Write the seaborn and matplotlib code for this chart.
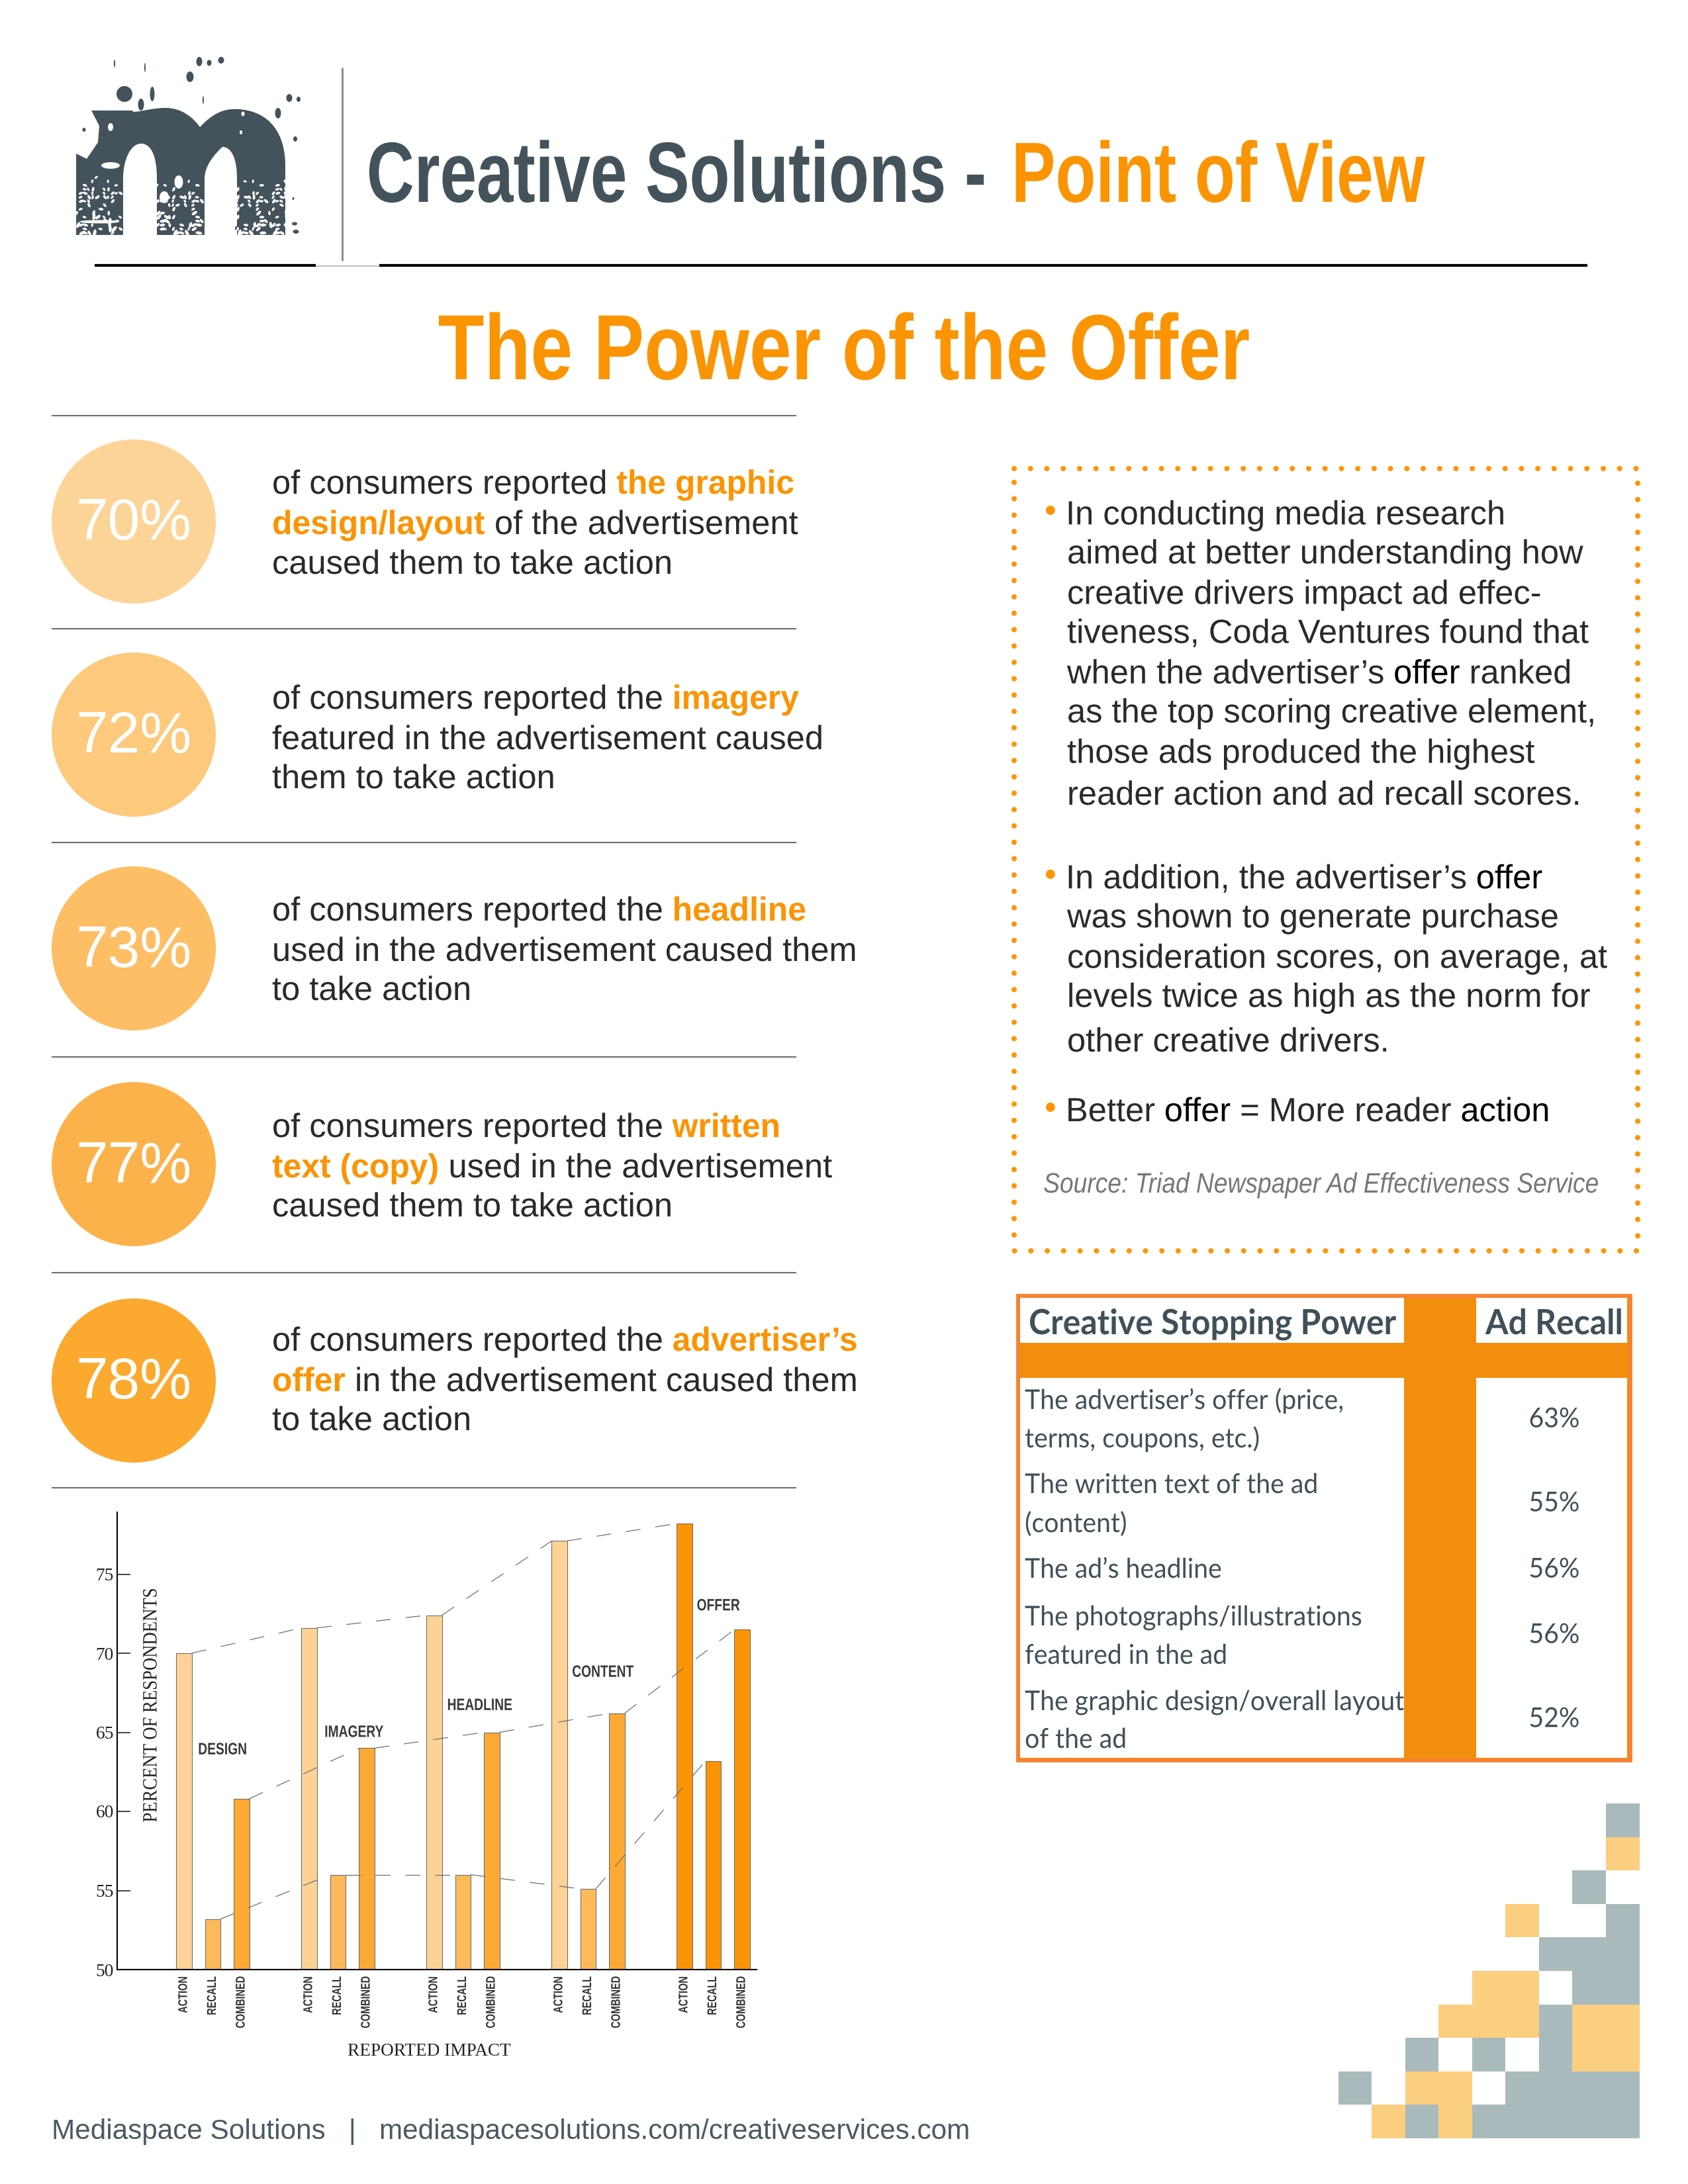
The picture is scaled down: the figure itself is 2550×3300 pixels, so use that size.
"""Rebuild of the Power of the Offer one-pager: chart, table, mosaic and copy."""
import matplotlib
matplotlib.use('Agg')
import matplotlib.pyplot as plt
from matplotlib.colors import ListedColormap
from matplotlib.patches import Circle, Ellipse, PathPatch, Rectangle
from matplotlib.patheffects import AbstractPathEffect
from matplotlib.path import Path
from matplotlib.transforms import Affine2D
import numpy as np
import pandas as pd
import seaborn as sns

W, H = 2550, 3300
DPI = 300

GROUPS = ['DESIGN', 'IMAGERY', 'HEADLINE', 'CONTENT', 'OFFER']
MEASURES = ['ACTION', 'RECALL', 'COMBINED']
ACTION = [70.0, 71.6, 72.4, 77.1, 78.2]
RECALL = [53.2, 56.0, 56.0, 55.1, 63.2]
COMBINED = [60.8, 64.0, 65.0, 66.2, 71.5]
Y_TICKS = [50, 55, 60, 65, 70, 75]

CIRCLE_PCTS = ['70%', '72%', '73%', '77%', '78%']

TABLE_HEAD = ['Creative Stopping Power', 'Ad Recall']
TABLE_ROWS = [['The advertiser\u2019s offer (price,', 'terms, coupons, etc.)'],
              ['The written text of the ad', '(content)'],
              ['The ad\u2019s headline'],
              ['The photographs/illustrations', 'featured in the ad'],
              ['The graphic design/overall layout', 'of the ad']]
TABLE_RECALL = ['63%', '55%', '56%', '56%', '52%']

# 1 grey, 2 orange, 0 empty
MOSAIC = [[0, 0, 0, 0, 0, 0, 0, 0, 1],
          [0, 0, 0, 0, 0, 0, 0, 0, 2],
          [0, 0, 0, 0, 0, 0, 0, 1, 0],
          [0, 0, 0, 0, 0, 2, 0, 0, 1],
          [0, 0, 0, 0, 0, 0, 1, 1, 1],
          [0, 0, 0, 0, 2, 2, 0, 1, 1],
          [0, 0, 0, 2, 2, 2, 1, 2, 2],
          [0, 0, 1, 0, 1, 0, 1, 2, 2],
          [1, 0, 2, 2, 0, 1, 1, 1, 1],
          [0, 2, 1, 2, 1, 1, 1, 1, 1]]

SLATE = '#44535B'
ORANGE = '#FB9403'
BODY = '#2A2A2A'
SANS = ['Liberation Sans']
SERIF = ['Liberation Serif']

LEFT_COPY = [
    [[('of consumers reported ', 0), ('the graphic', 1)],
     [('design/layout', 1), (' of the advertisement', 0)],
     [('caused them to take action', 0)]],
    [[('of consumers reported the ', 0), ('imagery', 1)],
     [('featured in the advertisement caused', 0)],
     [('them to take action', 0)]],
    [[('of consumers reported the ', 0), ('headline', 1)],
     [('used in the advertisement caused them', 0)],
     [('to take action', 0)]],
    [[('of consumers reported the ', 0), ('written', 1)],
     [('text (copy)', 1), (' used in the advertisement', 0)],
     [('caused them to take action', 0)]],
    [[('of consumers reported the ', 0), ('advertiser\u2019s', 1)],
     [('offer', 1), (' in the advertisement caused them', 0)],
     [('to take action', 0)]],
]

RIGHT_COPY = [
    (368, [('In conducting media research', 0)], True),
    (396, [('aimed at better understanding how', 0)], False),
    (425, [('creative drivers impact ad effec-', 0)], False),
    (453, [('tiveness, Coda Ventures found that', 0)], False),
    (482, [('when the advertiser\u2019s ', 0), ('offer', 2), (' ranked', 0)], False),
    (510, [('as the top scoring creative element,', 0)], False),
    (539, [('those ads produced the highest', 0)], False),
    (569, [('reader action and ad recall scores.', 0)], False),
    (629, [('In addition, the advertiser\u2019s ', 0), ('offer', 2)], True),
    (657, [('was shown to generate purchase', 0)], False),
    (686, [('consideration scores, on average, at', 0)], False),
    (714, [('levels twice as high as the norm for', 0)], False),
    (746, [('other creative drivers.', 0)], False),
    (796, [('Better ', 0), ('offer', 2), (' = More reader ', 0), ('action', 2)], True),
]


class Squeeze(AbstractPathEffect):
    # no condensed face is installed, so glyphs get narrowed at draw time
    def __init__(self, sx, anchor=0.0):
        super().__init__()
        self.sx = sx
        self.anchor = anchor

    def draw_path(self, renderer, gc, tpath, affine, rgbFace=None):
        box = tpath.get_extents()
        pivot = box.x0 + box.width * self.anchor
        squeeze = Affine2D().translate(-pivot, 0).scale(self.sx, 1).translate(pivot, 0)
        renderer.draw_path(gc, tpath, squeeze + affine, rgbFace)


def runs(ax, x, y, parts, size, family=SANS):
    # lay colored pieces of a line one after another
    renderer = ax.figure.canvas.get_renderer()
    for text, style in parts:
        color = ORANGE if style == 1 else ('#000000' if style == 2 else BODY)
        weight = 'bold' if style == 1 else 'normal'
        sx = 0.985 if style == 1 else 1.0
        t = ax.text(x, y, text, fontsize=size, color=color, fontweight=weight,
                    family=family, va='baseline', ha='left', path_effects=[Squeeze(sx)])
        # bar sticks keep the spaces at the ends in the measure
        t.set_text('|' + text + '|')
        full = t.get_window_extent(renderer).width
        t.set_text('||')
        bars = t.get_window_extent(renderer).width
        t.set_text(text)
        x += (full - bars) * sx


def drawLogo(ax):
    verts = [(115, 355), (115, 232), (131, 240), (148, 215), (150, 190), (138, 167), (200, 167),
             (200, 173), (225, 163), (250, 163),
             (275, 163), (292, 178), (302, 192),
             (318, 175), (335, 163), (360, 165),
             (410, 168), (431, 205), (431, 250),
             (431, 355), (358, 355), (358, 270),
             (358, 240), (350, 222), (336, 222),
             (325, 232), (309, 250), (309, 270),
             (309, 355), (237, 355), (237, 270),
             (237, 235), (228, 217), (213, 217),
             (198, 217), (186, 240), (186, 270), (186, 355), (115, 355)]
    codes = [Path.MOVETO] + [Path.LINETO] * 6 + [Path.CURVE4] * 12 + [Path.LINETO] * 3 \
        + [Path.CURVE4] * 6 + [Path.LINETO] * 3 + [Path.CURVE4] * 6 + [Path.LINETO] * 2
    ax.add_patch(PathPatch(Path(verts, codes), fc=SLATE, ec='none'))
    ax.add_patch(Circle((188, 142), 12, fc=SLATE, ec='none'))
    drops = [(301, 93, 9, 14), (316, 95, 7, 9), (334, 91, 9, 10), (287, 116, 11, 16), (230, 142, 7, 22),
             (213, 158, 9, 18), (437, 148, 9, 12), (451, 150, 6, 8), (420, 171, 9, 16), (446, 210, 6, 8),
             (173, 96, 2, 12), (219, 102, 2, 14), (307, 151, 2, 12), (127, 196, 5, 6), (375, 325, 9, 10),
             (445, 338, 8, 5), (447, 350, 9, 6), (443, 300, 3, 4), (358, 345, 6, 7)]
    for x, y, w, h in drops:
        ax.add_patch(Ellipse((x, y), w, h, fc=SLATE, ec='none'))
    # worn ink in the lower part of the stems
    for left, right in [(115, 186), (237, 309), (358, 431)]:
        for y in range(268, 356, 6):
            for x in range(left, right, 6):
                v = (x * x * 3 + y * y * 7 + x * y) % 97 / 97
                if v < 0.12 + 0.4 * (y - 268) / 87:
                    ax.add_patch(Ellipse((x + v * 8, y), 5 + v * 12, 3 + v * 4, angle=(x * 37) % 180,
                                         fc='white', ec='none'))
    for x, y, w, h in [(167, 250, 28, 10), (270, 275, 13, 20), (248, 298, 14, 18), (167, 192, 8, 12),
                       (150, 335, 60, 5), (367, 172, 5, 7), (364, 200, 4, 6)]:
        ax.add_patch(Ellipse((x, y), w, h, fc='white', ec='none'))


def drawHeader(ax):
    ax.plot([517, 517], [102, 394], color='#8A8A8A', lw=0.7, solid_capstyle='butt')
    ax.plot([143, 477], [401, 401], color='black', lw=1.0, solid_capstyle='butt')
    ax.plot([573, 2398], [401, 401], color='black', lw=1.0, solid_capstyle='butt')
    ax.plot([477, 573], [402, 402], color='#C4C4C4', lw=0.5, solid_capstyle='butt')
    ax.text(1491, 305, 'Creative Solutions -', fontsize=31, fontweight='bold', family=SANS, color=SLATE,
            va='baseline', ha='right', path_effects=[Squeeze(0.772, 1.0)])
    ax.text(1526, 305, 'Point of View', fontsize=31, fontweight='bold', family=SANS, color=ORANGE,
            va='baseline', path_effects=[Squeeze(0.772)])
    ax.text(1275, 573, 'The Power of the Offer', fontsize=33.6, fontweight='bold', family=SANS, color=ORANGE,
            va='baseline', ha='center', path_effects=[Squeeze(0.817, 0.5)])


def drawLeftColumn(ax):
    for y in [628, 950, 1273, 1597, 1923, 2248]:
        ax.plot([78, 1203], [y, y], color='#6E6E6E', lw=0.5, solid_capstyle='butt')
    colors = ['#FDD497', '#FDC97C', '#FDBE65', '#FCB24A', '#FCA92F']
    centers = [788, 1110, 1433, 1759, 2086]
    line_y = [[746, 807, 867], [1071, 1132, 1191], [1391, 1452, 1511], [1718, 1779, 1838], [2041, 2102, 2161]]
    for pct, color, cy, ys, copy in zip(CIRCLE_PCTS, colors, centers, line_y, LEFT_COPY):
        ax.add_patch(Circle((202, cy), 124, fc=color, ec='none'))
        ax.text(202, cy + 5, pct, fontsize=21, color='white', family=SANS, ha='center', va='center')
        for y, parts in zip(ys, copy):
            runs(ax, 411, y, parts, 12.15)


def drawRightColumn(ax):
    ax.add_patch(Rectangle((1532, 708), 942, 1182, fc='none', ec='#FF9500', lw=1.92,
                           linestyle=(0, (0.01, 3.08)), capstyle='round'))
    for y, parts, bullet in RIGHT_COPY:
        py = y * 2.107 + 17
        if bullet:
            ax.text(1578, py - 4, '\u2022', fontsize=12.2, color='#FF9500', family=SANS, va='baseline')
        runs(ax, 1610 if bullet else 1612, py, parts, 12.15)
    ax.text(1576, 1802, 'Source: Triad Newspaper Ad Effectiveness Service', fontsize=10.2, color='#777777',
            style='italic', family=SANS, va='baseline', path_effects=[Squeeze(0.875)])


def drawTable(ax):
    table_fill = '#F28E0D'
    ax.add_patch(Rectangle((1538, 1958), 925, 702, fc=table_fill, ec='#F58233', lw=1.4))
    for x0, x1 in [(1541, 2121), (2230, 2458)]:
        ax.add_patch(Rectangle((x0, 1961), x1 - x0, 68, fc='white', ec='none'))
        ax.add_patch(Rectangle((x0, 2082), x1 - x0, 574, fc='white', ec='none'))
    ink = '#3F5058'
    narrow = [Squeeze(0.95)]
    ax.text(1554, 2016, TABLE_HEAD[0], fontsize=12.6, fontweight='bold', family='Lato', color=ink, va='baseline',
            path_effects=narrow)
    ax.text(2244, 2016, TABLE_HEAD[1], fontsize=12.6, fontweight='bold', family='Lato', color=ink, va='baseline',
            path_effects=narrow)
    baselines = [[2129, 2187], [2256, 2315], [2384], [2456, 2514], [2584, 2641]]
    centers = [2145, 2272, 2372, 2471, 2598]
    for lines, ys, pct, cy in zip(TABLE_ROWS, baselines, TABLE_RECALL, centers):
        for line, y in zip(lines, ys):
            ax.text(1548, y, line, fontsize=9.9, family='Lato', color=ink, va='baseline', path_effects=narrow)
        ax.text(2348, cy, pct, fontsize=9.9, family='Lato', color=ink, va='center', ha='center',
                path_effects=[Squeeze(0.95, 0.5)])


def drawChart(fig):
    ax = fig.add_axes([177 / W, 1 - 2976 / H, (1143 - 177) / W, (2976 - 2285) / H])
    ax.patch.set_alpha(0)
    pitch = 189 / 43.5
    rows = []
    for g, group in enumerate(GROUPS):
        values = [ACTION[g], RECALL[g], COMBINED[g]]
        for m, measure in enumerate(MEASURES):
            shade = 'offer' if group == 'OFFER' else measure
            rows.append({'group': group, 'measure': measure, 'pos': g * pitch + m, 'value': values[m], 'shade': shade})
    df = pd.DataFrame(rows)
    shades = {'ACTION': '#FDD296', 'RECALL': '#FDBA5A', 'COMBINED': '#FCAA33', 'offer': '#FB9505'}
    sns.barplot(data=df, x='pos', y='value', hue='shade', palette=shades, native_scale=True, dodge=False,
                width=0.53, saturation=1, legend=False, edgecolor='#6A6A6A', linewidth=0.25, ax=ax, zorder=2)

    half = 0.53 / 2
    segs = []
    for measure, values in zip(MEASURES, [ACTION, RECALL, COMBINED]):
        sub = df[df.measure == measure]
        for g in range(len(GROUPS) - 1):
            seg = '%s%d' % (measure, g)
            segs.append({'seg': seg, 'x': sub.pos.iloc[g] + half, 'y': values[g]})
            segs.append({'seg': seg, 'x': sub.pos.iloc[g + 1] - half, 'y': values[g + 1]})
    sns.lineplot(data=pd.DataFrame(segs), x='x', y='y', units='seg', estimator=None, color='#6F6F6F', lw=0.3,
                 linestyle=(0, (18, 18)), ax=ax, zorder=3)

    ax.set_xlim(-101 / 43.5, 865 / 43.5)
    ax.set_ylim(50, 50 + 691 / 23.9)
    ax.set_yticks(Y_TICKS)
    ax.set_yticklabels(Y_TICKS, family=SERIF, fontsize=6.6, color='#222222')
    ax.tick_params(axis='y', left=True, direction='in', length=4.8, width=0.4, pad=1.2, color='#222222')
    ax.set_xticks(df.pos)
    ax.set_xticklabels(df.measure, rotation=90, family=SANS, fontweight='bold', fontsize=4.6, color='#333333',
                       va='top', ha='center', path_effects=[Squeeze(0.755, 1.0)])
    ax.tick_params(axis='x', bottom=False, length=0, pad=2.5)
    ax.set_xlabel('')
    ax.set_ylabel('')
    sns.despine(ax=ax)
    for side in ['left', 'bottom']:
        ax.spines[side].set_linewidth(0.5)
        ax.spines[side].set_color('black')

    # group captions sit between the bars
    spots = [(0.48, 63.9), (4.87, 65.0), (9.13, 66.7), (13.47, 68.8), (17.8, 73.0)]
    for group, (x, y) in zip(GROUPS, spots):
        ax.text(x, y, group, family=SANS, fontweight='bold', fontsize=6.0, color='#3A3A3A', va='center', ha='left',
                path_effects=[Squeeze(0.77)])
    ax.text((229 - 177) / 966, (2976 - 2577) / 691, 'PERCENT OF RESPONDENTS', transform=ax.transAxes, rotation=90,
            family=SERIF, fontsize=7.4, color='#222222', ha='center', va='center',
            path_effects=[Squeeze(0.866, 0.5)])
    ax.text((648 - 177) / 966, (2976 - 3100) / 691, 'REPORTED IMPACT', transform=ax.transAxes, family=SERIF,
            fontsize=6.55, color='#222222', ha='center', va='center')


def drawMosaic(fig):
    left, right, top, bottom = 2021.6, 2476.6, 2725, 3231
    ax = fig.add_axes([left / W, 1 - bottom / H, (right - left) / W, (bottom - top) / H])
    grid = np.array(MOSAIC)
    sns.heatmap(grid, mask=grid == 0, cmap=ListedColormap(['#A9BABC', '#FCCE80']), vmin=1, vmax=2, cbar=False,
                xticklabels=False, yticklabels=False, ax=ax)
    ax.patch.set_alpha(0)


def main():
    sns.set_theme(style='white')
    plt.rcParams['font.family'] = SANS
    fig = plt.figure(figsize=(W / DPI, H / DPI), dpi=DPI, facecolor='white')
    page = fig.add_axes([0, 0, 1, 1])
    page.set_xlim(0, W)
    page.set_ylim(H, 0)
    page.axis('off')
    drawLogo(page)
    drawHeader(page)
    drawLeftColumn(page)
    drawRightColumn(page)
    drawTable(page)
    drawChart(fig)
    drawMosaic(fig)
    page.text(78, 3232, 'Mediaspace Solutions   |   mediaspacesolutions.com/creativeservices.com', fontsize=10.15,
              color='#4A5A63', family=SANS, va='baseline')
    fig.savefig('out.png', dpi=DPI)


if __name__ == '__main__':
    main()
